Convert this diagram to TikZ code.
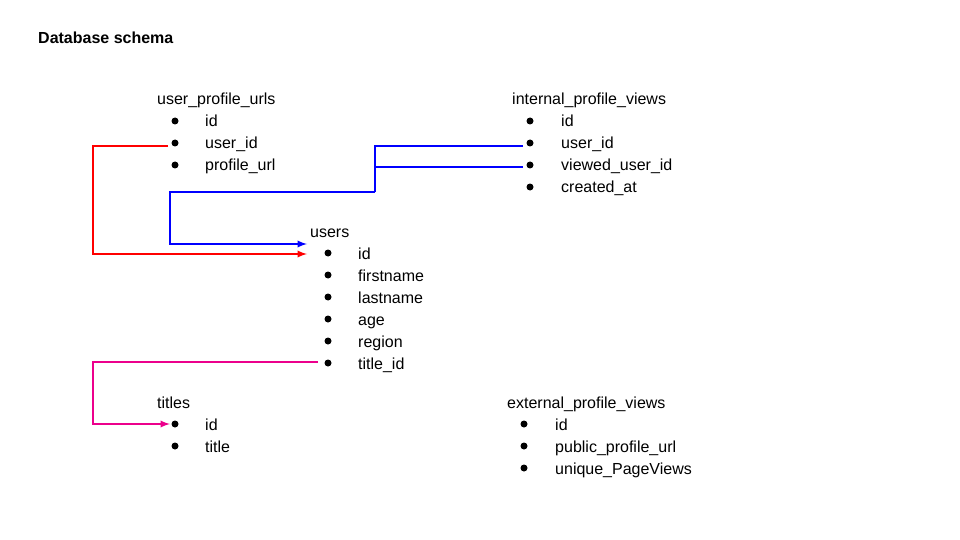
\documentclass[tikz,border=0pt]{standalone}
\usepackage{fontspec}
\setmainfont{Liberation Sans}
\begin{document}
\begin{tikzpicture}[x=1pt,y=-1pt,
 lbl/.style={anchor=base west,inner sep=0pt,font=\fontsize{16}{19}\selectfont},
 dot/.style={circle,fill=black,inner sep=0pt,minimum size=7pt},
 con/.style={line width=2.2pt},
 >=latex]
\useasboundingbox (0,0) rectangle (960,540);
\node[lbl,font=\fontsize{16}{19}\selectfont\bfseries] (title) at (38,44) {Database schema};
% user_profile_urls
\node[lbl] (upu) at (157,105) {user\_profile\_urls};
\foreach \t [count=\i] in {id,user\_id,profile\_url}{
 \node[dot] (upud\i) at (175,99+22*\i) {};
 \node[lbl] (upu\i) at (205,105+22*\i) {\t};}
% internal_profile_views
\node[lbl] (ipv) at (512,105) {internal\_profile\_views};
\foreach \t [count=\i] in {id,user\_id,viewed\_user\_id,created\_at}{
 \node[dot] (ipvd\i) at (530,99+22*\i) {};
 \node[lbl] (ipv\i) at (561,105+22*\i) {\t};}
% users
\node[lbl] (us) at (310,237) {users};
\foreach \t [count=\i] in {id,firstname,lastname,age,region,title\_id}{
 \node[dot] (usd\i) at (328,231+22*\i) {};
 \node[lbl] (us\i) at (358,237+22*\i) {\t};}
% titles
\node[lbl] (ti) at (157,408) {titles};
\foreach \t [count=\i] in {id,title}{
 \node[dot] (tid\i) at (175,402+22*\i) {};
 \node[lbl] (ti\i) at (205,408+22*\i) {\t};}
% external_profile_views
\node[lbl] (epv) at (507,408) {external\_profile\_views};
\foreach \t [count=\i] in {id,public\_profile\_url,unique\_PageViews}{
 \node[dot] (epvd\i) at (524,402+22*\i) {};
 \node[lbl] (epv\i) at (555,408+22*\i) {\t};}
% connectors
\coordinate (rs) at (168,146);
\coordinate (re) at (307,254);
\draw[con,red,->] (rs) -- (93,146) -- (93,254) -- (re);
\coordinate (b1) at (523,146);
\coordinate (b2) at (523,167);
\coordinate (be) at (307,244);
\draw[con,blue] (b1) -- (375,146) -- (375,192);
\draw[con,blue] (b2) -- (375,167);
\draw[con,blue,->] (375,192) -- (170,192) -- (170,244) -- (be);
\coordinate (ms) at (318,362);
\coordinate (me) at (170,424);
\draw[con,magenta,->] (ms) -- (93,362) -- (93,424) -- (me);
\end{tikzpicture}
\end{document}
